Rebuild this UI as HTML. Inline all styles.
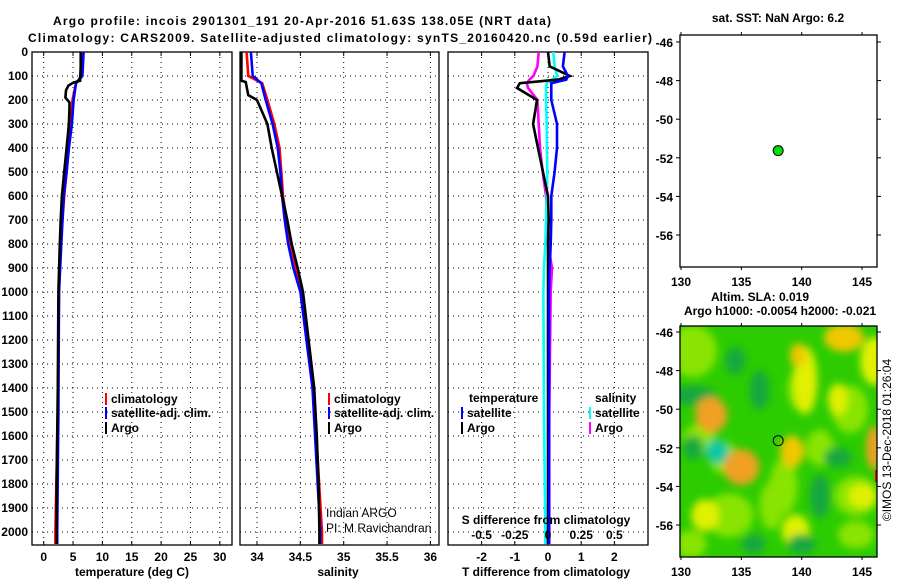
<!DOCTYPE html>
<html><head><meta charset="utf-8">
<style>
html,body{margin:0;padding:0;background:#fff;}
svg{display:block;font-family:"Liberation Sans",sans-serif;}
.b{font-weight:bold;font-size:12px;}
</style></head>
<body>
<svg id="chart" width="900" height="580" viewBox="0 0 900 580">
<defs>
<clipPath id="c1"><rect x="32" y="52" width="200" height="493"/></clipPath>
<clipPath id="c2"><rect x="240" y="52" width="199" height="493"/></clipPath>
<clipPath id="c3"><rect x="448" y="52" width="200" height="493"/></clipPath>
<clipPath id="cm"><rect x="680" y="326" width="197" height="231"/></clipPath>
<filter id="blur" x="-50%" y="-50%" width="200%" height="200%"><feGaussianBlur stdDeviation="4"/></filter>
</defs>
<text x="302" y="25" text-anchor="middle" class="b" font-size="13" textLength="498">Argo profile: incois 2901301_191 20-Apr-2016 51.63S 138.05E (NRT data)</text>
<text x="340" y="42" text-anchor="middle" class="b" font-size="13" textLength="624">Climatology: CARS2009. Satellite-adjusted climatology: synTS_20160420.nc (0.59d earlier)</text>
<g id="g"></g>
</svg>
<script>
// ---- profile data ----
const depthArgoT = [0,60,120,128,140,160,190,210,230,300,400,500,600,700,800,1000,1200,1400,1600,1800,2000,2050];
const tempArgo   = [6.3,6.3,6.2,5.0,4.2,3.8,3.7,4.4,4.4,4.3,3.9,3.5,3.1,2.9,2.75,2.5,2.45,2.4,2.3,2.2,2.2,2.2];
const depthClimT = [0,100,130,200,300,400,500,600,800,1000,1500,2000,2050];
const tempClim   = [6.5,6.4,5.5,4.9,4.6,4.2,3.9,3.5,2.9,2.6,2.4,2.0,2.0];
const tempSat    = [6.8,6.6,5.5,5.1,4.8,4.3,3.9,3.4,3.0,2.6,2.5,2.3,2.3];
const depthArgoS = [0,120,125,180,200,300,400,500,600,700,800,900,1000,1400,1600,1800,2000,2050];
const salArgo    = [33.82,33.82,33.87,33.9,34.0,34.12,34.17,34.23,34.29,34.35,34.4,34.47,34.53,34.66,34.69,34.71,34.72,34.72];
const depthClimS = [0,100,130,200,300,400,500,600,700,800,900,1000,1400,2000,2050];
const salClim    = [33.88,33.9,34.06,34.12,34.2,34.26,34.28,34.3,34.34,34.39,34.45,34.51,34.65,34.75,34.75];
const salSat     = [33.93,33.95,34.05,34.1,34.18,34.24,34.27,34.29,34.32,34.36,34.42,34.5,34.64,34.73,34.73];
const depthDiff  = [0,60,100,115,130,150,200,300,400,500,600,700,800,900,1000,1500,2000,2050];
const tDiffArgo  = [0,0.05,0.66,0.3,-0.85,-0.93,-0.33,-0.45,-0.3,-0.15,0,0.02,0.0,0.0,0.0,0.0,0.0,0.0];
const tDiffSat   = [0.5,0.45,0.6,0.55,0.1,0.1,0.1,0.27,0.27,0.2,0.1,0.1,0.08,0.05,0.03,0.03,0.03,0.03];
const sDiffArgo  = [-0.07,-0.08,-0.11,-0.14,-0.16,-0.15,-0.08,-0.07,-0.06,-0.04,-0.015,-0.005,0.0,0.03,0.02,0.01,0.01,0.01];
const sDiffSat   = [0.04,0.05,0.07,0.03,-0.01,-0.015,-0.015,-0.01,-0.008,-0.005,-0.01,-0.015,-0.02,-0.03,-0.035,-0.03,-0.02,-0.02];
// ---- tick labels ----
const depthTicks = [0,100,200,300,400,500,600,700,800,900,1000,1100,1200,1300,1400,1500,1600,1700,1800,1900,2000];
const tempTicks = [0,5,10,15,20,25,30];
const salTicks = [34,34.5,35,35.5,36];
const tDiffTicks = [-2,-1,0,1,2];
const sDiffTicks = [-0.5,-0.25,0,0.25,0.5];
const sDiffLabels = ["-0.5","-0.25","0","0.25","0.5"];
const lonTicks = [130,135,140,145];
const latTicks = [-46,-48,-50,-52,-54,-56];
// ---- map data ----
const argoLon = [138.05];
const argoLat = [-51.63];
const blobLon = [131,134,144.5,130.8,144,138.5,131.5,144.5,140,133.5,137.5,141.5,131,143.5,146,140.3,139.7,132.5,143,135,139.2,146,133,131,141.5,143,132,139.5,145,140,136,134.5,136.5];
const blobLat = [-47,-55.5,-54.5,-57,-50,-54,-51.5,-56.5,-49,-52.5,-55,-52,-49.3,-46.3,-47.5,-48.5,-47.2,-50.3,-49.5,-53,-52.2,-52,-52.2,-52,-54.5,-52.5,-55.5,-56.3,-54.5,-57,-57,-47.5,-49];
const blobVal = [0.1,0.1,0.1,0.1,0.1,0.1,0.1,0.1,0.1,0.1,0.1,0.1,-0.1,0.28,0.2,0.22,0.28,0.3,0.22,0.32,0.26,0.32,-0.2,-0.1,-0.1,-0.1,0.2,0.22,0.2,-0.1,-0.1,-0.1,-0.1];
const blobRx = [24,24,22,16,18,14,16,18,14,14,12,14,24,20,14,12,8,16,10,18,12,8,12,10,10,14,14,14,14,14,12,10,10];
const blobRy = [26,22,20,14,24,28,14,14,22,16,24,18,10,14,24,34,12,18,16,18,16,22,12,12,22,10,16,16,12,10,10,14,20];

const NS='http://www.w3.org/2000/svg';
const G=document.getElementById('g');
function el(tag,attrs,parent){const e=document.createElementNS(NS,tag);for(const k in attrs)e.setAttribute(k,attrs[k]);(parent||G).appendChild(e);return e;}
function txt(x,y,s,attrs,parent){const e=el('text',Object.assign({x:x,y:y},attrs||{}),parent);e.textContent=s;return e;}

const yD=d=>52+d*0.24;
const xT=v=>43.7+v*5.87;
const xS=v=>257+(v-34)*86.7;
const xdT=v=>548+v*33.2;
const xdS=v=>548+v*132.8;
const lonX=l=>681+(l-130)*12.07;
const latYTop=l=>42+(-46-l)*19.3;
const latYBot=l=>332+(-46-l)*19.3;

function panel(x0,w,ticks,xf,labels,name){
  const g=el('g',{});
  
  
  depthTicks.forEach(d=>{
    const l=el('line',{x1:x0,x2:x0+w,y1:yD(d),y2:yD(d),stroke:'#000','stroke-width':1,'stroke-dasharray':'1,4'},g);
    
    
  });
  ticks.forEach((t,i)=>{
    const x=xf(t);
    const l=el('line',{x1:x,x2:x,y1:52,y2:545,stroke:'#000','stroke-width':1,'stroke-dasharray':'1,4'},g);
    
    
    el('line',{x1:x,x2:x,y1:52,y2:56,stroke:'#000'},g);
    el('line',{x1:x,x2:x,y1:545,y2:541,stroke:'#000'},g);
    if(labels){const tt=txt(x,561,labels[i],{'text-anchor':'middle',class:'b'},g);
      
      }
  });
  const r=el('rect',{x:x0,y:52,width:w,height:493,fill:'none',stroke:'#000','stroke-width':1.3},g);
  
  
  return g;
}
function line(g,xs,ds,xf,color,name){
  const pts=xs.map((v,i)=>xf(v).toFixed(1)+','+yD(ds[i]).toFixed(1)).join(' ');
  const p=el('polyline',{points:pts,fill:'none',stroke:color,'stroke-width':2.6,'stroke-linejoin':'miter'},g);
  
  
}
depthTicks.forEach(d=>{
  const t=txt(28,yD(d)+4,String(d),{'text-anchor':'end',class:'b'});
  
  
});
const p1=panel(32,200,tempTicks,xT,tempTicks.map(String),'temperature');
const l1=el('g',{'clip-path':'url(#c1)'},p1);
line(l1,tempClim,depthClimT,xT,'#f00','temp-climatology-line');
line(l1,tempSat,depthClimT,xT,'#00f','temp-satellite-line');
line(l1,tempArgo,depthArgoT,xT,'#000','temp-argo-line');
const p2=panel(240,199,salTicks,xS,salTicks.map(String),'salinity');
const l2=el('g',{'clip-path':'url(#c2)'},p2);
line(l2,salClim,depthClimS,xS,'#f00','sal-climatology-line');
line(l2,salSat,depthClimS,xS,'#00f','sal-satellite-line');
line(l2,salArgo,depthArgoS,xS,'#000','sal-argo-line');
const p3=panel(448,200,tDiffTicks,xdT,tDiffTicks.map(String),'difference');
const l3=el('g',{'clip-path':'url(#c3)'},p3);
line(l3,sDiffArgo,depthDiff,xdS,'#f0f','sdiff-argo-line');
line(l3,sDiffSat,depthDiff,xdS,'#0ff','sdiff-satellite-line');
line(l3,tDiffArgo,depthDiff,xdT,'#000','tdiff-argo-line');
line(l3,tDiffSat,depthDiff,xdT,'#00f','tdiff-satellite-line');
sDiffTicks.forEach((t,i)=>{
  const tt=txt(xdS(t),539,sDiffLabels[i],{'text-anchor':'middle',class:'b'});
  
  
});
[['temperature (deg C)',132,'temperature-axis-title'],['salinity',338,'salinity-axis-title'],['T difference from climatology',546,'tdiff-axis-title']].forEach(a=>{
  const t=txt(a[1],576,a[0],{'text-anchor':'middle',class:'b'});
  
  
});
const st=txt(546,524,'S difference from climatology',{'text-anchor':'middle',class:'b'});


function leg(x,y,color,label,name){
  const g=el('g',{});
  
  
  el('rect',{x:x,y:y-9,width:2,height:12,fill:color},g);
  txt(x+6,y+1,label,{class:'b'},g);
}
leg(105,402,'#f00','climatology','legend-climatology');
leg(105,416,'#00f','satellite-adj. clim.','legend-satellite-adj');
leg(105,431,'#000','Argo','legend-argo');
leg(328,402,'#f00','climatology','legend-sal-climatology');
leg(328,416,'#00f','satellite-adj. clim.','legend-sal-satellite-adj');
leg(328,431,'#000','Argo','legend-sal-argo');
const lt=txt(469,402,'temperature',{class:'b'});


const ls=txt(595,402,'salinity',{class:'b'});


leg(461,416,'#00f','satellite','legend-tdiff-satellite');
leg(461,431,'#000','Argo','legend-tdiff-argo');
leg(589,416,'#0ff','satellite','legend-sdiff-satellite');
leg(589,431,'#f0f','Argo','legend-sdiff-argo');
const ia=txt(326,517,'Indian ARGO',{'font-size':12});


const pi=txt(326,532,'PI: M Ravichandran',{'font-size':12});



function mapAxes(top,bot,latY,name){
  const g=el('g',{});
  
  
  lonTicks.forEach(l=>{
    const x=lonX(l);
    el('line',{x1:x,x2:x,y1:top,y2:top-3,stroke:'#000'},g);
    el('line',{x1:x,x2:x,y1:bot,y2:bot+3,stroke:'#000'},g);
    const t=txt(x,bot+19,String(l),{'text-anchor':'middle',class:'b','font-size':13},g);
    
    
  });
  latTicks.forEach(l=>{
    const y=latY(l);
    el('line',{x1:676,x2:680,y1:y,y2:y,stroke:'#000'},g);
    el('line',{x1:877,x2:881,y1:y,y2:y,stroke:'#000'},g);
    const t=txt(673,y+5,String(l),{'text-anchor':'end',class:'b','font-size':13},g);
    
    
  });
  el('rect',{x:680,y:top,width:197,height:bot-top,fill:'none',stroke:'#000','stroke-width':1.3},g);
}
const tt1=txt(778,22,'sat. SST: NaN Argo: 6.2',{'text-anchor':'middle',class:'b'});


mapAxes(35,267,latYTop,'sst-map');
argoLon.forEach((l,i)=>{
  const c=el('circle',{cx:lonX(l),cy:latYTop(argoLat[i]),r:5,fill:'#0d0',stroke:'#000','stroke-width':1});
  
  
});
const tt2=txt(760,301,'Altim. SLA: 0.019',{'text-anchor':'middle',class:'b'});


const tt3=txt(780,315,'Argo h1000: -0.0054 h2000: -0.021',{'text-anchor':'middle',class:'b'});


function slaColor(v){
  if(v<=-0.15) return '#10c8a0';
  if(v<0) return '#12a840';
  if(v<0.14) return '#88e400';
  if(v<0.24) return '#e0f000';
  if(v<0.3) return '#f0c800';
  return '#f0a020';
}
const hm=el('g',{'clip-path':'url(#cm)'});


el('rect',{x:680,y:326,width:197,height:231,fill:'#2ccc00'},hm);
const hb=el('g',{filter:'url(#blur)'},hm);
blobLon.forEach((l,i)=>{
  const e=el('ellipse',{cx:lonX(l),cy:latYBot(blobLat[i]),rx:blobRx[i],ry:blobRy[i],fill:slaColor(blobVal[i])},hb);
  
  
});
el('rect',{x:875,y:470,width:3,height:12,fill:'#f00'},hm);
mapAxes(326,557,latYBot,'sla-map');
argoLon.forEach((l,i)=>{
  const c=el('circle',{cx:lonX(l),cy:latYBot(argoLat[i]),r:5,fill:'none',stroke:'#000','stroke-width':1});
  
  
});
const cp=txt(0,0,'©IMOS 13-Dec-2018 01:26:04',{'text-anchor':'middle','font-size':12,transform:'translate(891,440) rotate(-90)'});


</script>
</body></html>
